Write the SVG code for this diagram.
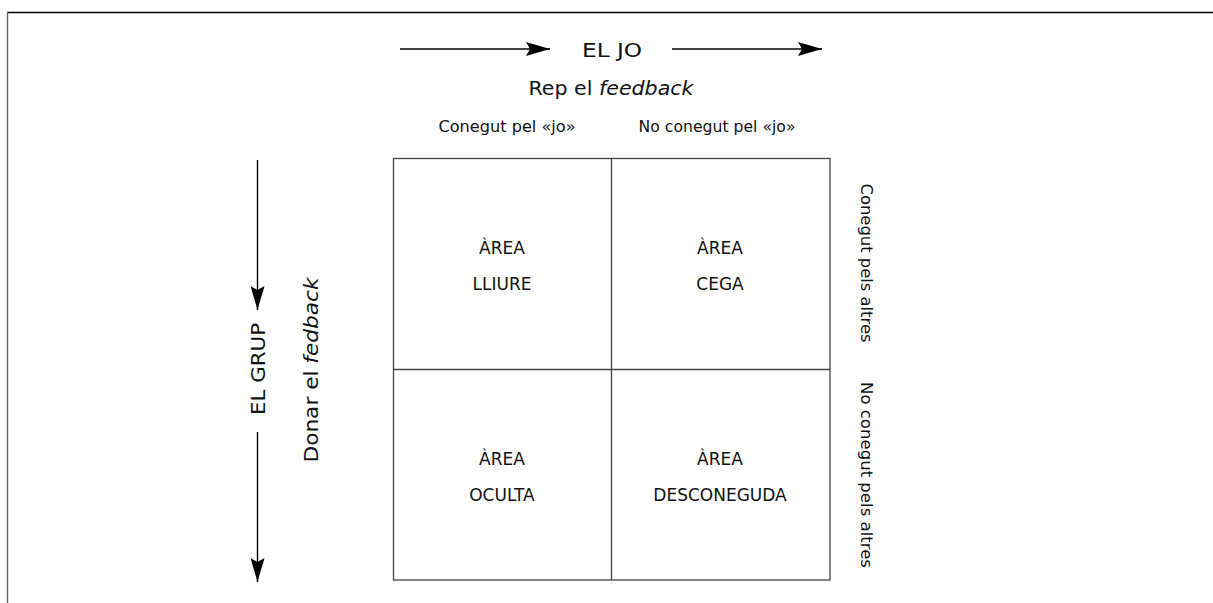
<svg xmlns="http://www.w3.org/2000/svg" width="1213" height="603" viewBox="0 0 1213 603">
<defs>
<marker id="ah" viewBox="0 0 24 14" refX="24" refY="7" markerWidth="24" markerHeight="14" markerUnits="userSpaceOnUse" orient="auto">
<path d="M0,0 L24,7 L0,14 L4,7 Z" fill="#000"/>
</marker>
</defs>
<style>
text{font-family:"DejaVu Sans","Liberation Sans",sans-serif;fill:#111;text-anchor:middle}
.big{font-size:20px}
.sub{font-size:15px}
.side{font-size:15px}
.cell{font-size:17px}
.arr{stroke:#000;stroke-width:1.4;fill:none;marker-end:url(#ah)}
.grid{stroke:#444;stroke-width:1.3;fill:none}
</style>
<rect width="1213" height="603" fill="#fff"/>
<g id="frame">
<line x1="7" y1="12.5" x2="1213" y2="12.5" stroke="#000" stroke-width="1.3"/>
<line x1="7.5" y1="12" x2="7.5" y2="603" stroke="#666" stroke-width="1.4"/>
</g>
<g id="connectors">
<line class="arr" x1="400" y1="49" x2="550" y2="49"/>
<line class="arr" x1="672" y1="49" x2="822" y2="49"/>
<line class="arr" x1="257.5" y1="160" x2="257.5" y2="310"/>
<line class="arr" x1="257.5" y1="432" x2="257.5" y2="582"/>
</g>
<g id="header">
<text class="big" x="612" y="57" textLength="60" lengthAdjust="spacingAndGlyphs">EL JO</text>
<text class="big" x="611" y="95" textLength="165" lengthAdjust="spacingAndGlyphs">Rep el <tspan font-style="italic">feedback</tspan></text>
<text class="sub" x="507" y="132" textLength="137" lengthAdjust="spacingAndGlyphs">Conegut pel «jo»</text>
<text class="sub" x="717" y="132" textLength="157" lengthAdjust="spacingAndGlyphs">No conegut pel «jo»</text>
</g>
<g id="side-left">
<text class="big" transform="translate(265,369) rotate(-90)" textLength="92" lengthAdjust="spacingAndGlyphs">EL GRUP</text>
<text class="big" transform="translate(318,370) rotate(-90)" textLength="185" lengthAdjust="spacingAndGlyphs">Donar el <tspan font-style="italic">fedback</tspan></text>
</g>
<g id="side-right">
<text class="side" transform="translate(861,263) rotate(90)" textLength="159" lengthAdjust="spacingAndGlyphs">Conegut pels altres</text>
<text class="side" transform="translate(861,475) rotate(90)" textLength="186" lengthAdjust="spacingAndGlyphs">No conegut pels altres</text>
</g>
<g id="grid">
<rect class="grid" x="393.5" y="158.5" width="436.5" height="421.5"/>
<line class="grid" x1="611.5" y1="158.5" x2="611.5" y2="580"/>
<line class="grid" x1="393.5" y1="369.5" x2="830" y2="369.5"/>
</g>
<g id="area-lliure">
<text class="cell" x="502" y="254">ÀREA</text>
<text class="cell" x="502" y="290">LLIURE</text>
</g>
<g id="area-cega">
<text class="cell" x="720" y="254">ÀREA</text>
<text class="cell" x="720" y="290">CEGA</text>
</g>
<g id="area-oculta">
<text class="cell" x="502" y="465">ÀREA</text>
<text class="cell" x="502" y="501">OCULTA</text>
</g>
<g id="area-desconeguda">
<text class="cell" x="720" y="465">ÀREA</text>
<text class="cell" x="720" y="501">DESCONEGUDA</text>
</g>
</svg>
